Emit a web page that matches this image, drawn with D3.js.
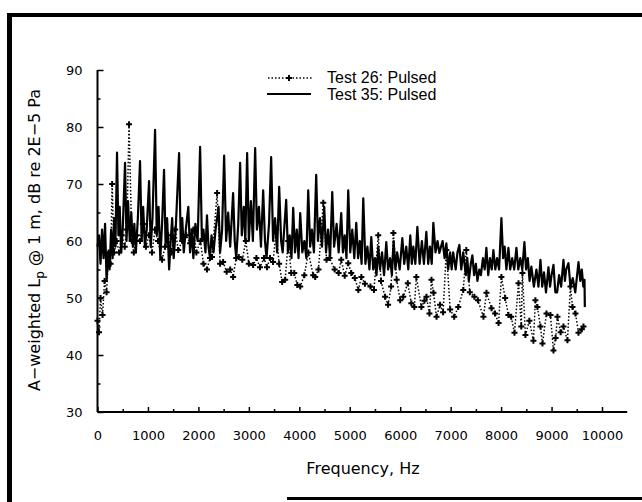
<!DOCTYPE html>
<html>
<head>
<meta charset="utf-8">
<script src="https://cdn.jsdelivr.net/npm/d3@7"></script>
<style>
  html, body { margin: 0; padding: 0; background: #fff; }
  svg { display: block; }
</style>
</head>
<body>
<script>
// ---- data ----
const seriesNames = ["Test 26: Pulsed", "Test 35: Pulsed"];
const xTicks = [0,1000,2000,3000,4000,5000,6000,7000,8000,9000,10000];
const yTicks = [30,40,50,60,70,80,90];

const freq35 = [0,30,60,90,120,150,180,210,240,270,
300,330,355,387,415,440,470,500,546,575,
605,640,670,700,730,760,800,843,875,905,
940,975,1022,1055,1090,1141,1175,1210,1245,1280,
1319,1350,1380,1420,1450,1480,1510,1550,1617,1650,
1680,1710,1750,1800,1835,1870,1900,1940,1985,2034,
2070,2100,2140,2170,2200,2230,2260,2300,2340,2400,
2430,2470,2510,2550,2590,2630,2688,2720,2750,2790,
2827,2860,2900,2930,2966,3000,3040,3080,3125,3160,
3200,3240,3284,3320,3350,3400,3442,3480,3520,3560,
3601,3640,3670,3700,3740,3775,3810,3845,3879,3915,
3950,3985,4018,4060,4100,4140,4177,4215,4250,4290,
4335,4370,4410,4450,4494,4530,4570,4610,4653,4690,
4740,4780,4831,4865,4900,4935,4970,5010,5050,5090,
5129,5165,5200,5235,5268,5310,5350,5390,5427,5465,
5500,5530,5565,5600,5640,5680,5724,5760,5800,5835,
5870,5905,5940,5990,6042,6080,6120,6160,6200,6230,
6260,6300,6340,6385,6430,6470,6518,6555,6590,6625,
6657,6700,6740,6776,6840,6880,6915,6950,6990,7020,
7050,7100,7135,7173,7210,7250,7300,7330,7360,7400,
7431,7465,7500,7530,7569,7600,7640,7675,7708,7745,
7780,7815,7847,7885,7920,7960,8006,8040,8070,8105,
8145,8180,8220,8260,8304,8340,8380,8420,8462,8495,
8530,8565,8600,8650,8700,8740,8780,8815,8850,8890,
8939,8970,9000,9038,9075,9110,9150,9190,9236,9265,
9290,9335,9375,9420,9470,9534,9570,9600,9630,9653,
9660];
const lp35 = [59,61,56,62,57,63,53,58,55,62,
57,64,59,75.5,61,66,58,62,73.7,60,
67,60,65,59,63,58,64,74,60,66,
59,62,70.5,59,64,79.5,61,66,57,63,
72.5,59,64,55,60,64,57,62,75.4,60,
64,58,62,66,58,62,57,63,60,76.5,
60,62,58,64.5,59,57,61,58,62,66,
58,62,75,60,65,59,68.4,60,57,63,
73.7,61,66,60,75.4,60,67,60,76.3,62,
66,59,68.9,60,57,63,74.7,60,64,58,
69.5,60,58,62,67.2,58,61,57,65.8,58,
62,57,64.9,58,60,57,68.9,59,62,58,
71.6,60,64,59,66,58,62,57,68.6,59,
63,58,64.9,58,61,57,68.9,58,62,57,
63.2,57,60,56,67.5,56,59,55,60.7,55,
57,54,59,55,58,54,59.8,55,57,54,
60,55,58,55,60.5,56,59,55,61,56,
59,56,62.5,56,60,56,61.6,56,59,56,
63.2,58,60,57.9,60,57,59.6,55,58,55,
58,55,58,59.3,55,58,54,57,53,56,
57.5,54,56,53,55,54,57,55,58.8,54,
57,55,58.4,55,57,55,64,57,59,55,
58.8,55,57,55,58.8,55,57,55,59.8,55,
57,53,55.5,52,55,52,56.7,52,54.5,51,
55.4,52,54,55.8,51,51,54,52,56.7,53,
55,56.1,52,53.5,51,56.3,53,55,52,53.2,
48.4];

const freq26 = [0,30,60,100,140,180,220,260,290,330,
380,430,480,540,580,625,680,720,780,843,
900,960,1020,1080,1140,1200,1280,1340,1400,1470,
1540,1600,1680,1760,1835,1900,1960,2040,2100,2170,
2230,2270,2371,2430,2490,2560,2630,2688,2750,2800,
2870,2940,3000,3085,3150,3220,3300,3360,3420,3480,
3540,3600,3660,3720,3780,3840,3900,3960,4018,4100,
4180,4275,4315,4380,4475,4540,4600,4700,4780,4831,
4900,4970,5030,5100,5170,5230,5300,5410,5480,5565,
5620,5700,5760,5820,5865,5930,6000,6060,6150,6220,
6280,6320,6420,6480,6520,6580,6620,6660,6720,6790,
6850,6915,6990,7070,7150,7250,7310,7380,7470,7540,
7650,7710,7810,7880,7950,8006,8080,8145,8200,8265,
8345,8400,8423,8482,8560,8641,8680,8720,8780,8820,
8900,8978,9038,9080,9117,9180,9236,9315,9375,9415,
9474,9534,9600,9633];
const lp26 = [46,44,50,47,53,51,58,56,70,58,
60,58,61,59,62,80.5,60,58,61,60,
63,59,61,58,62,60,56.7,59,61,58,
62,58.4,60,61,59.6,62,58,60,56,55,
57,57.2,68.4,56,56.3,54.6,55,53.7,57,57.2,
56.7,60,56,55.8,57,55.4,57,55.4,57,56.3,
62,56,52.8,53.2,60,54.4,54.4,52.3,52,54,
58,54,53.7,55,66.7,56.7,57,55,54.4,56.7,
53.9,56.1,54.4,53.5,51.4,53.7,52.5,52,51.4,61,
53,50.2,48.8,52,61.4,53.2,49.6,50.2,52.6,49.1,
48.4,53.7,48.4,49.5,50.2,47.3,53.2,50.9,46.7,48.8,
47.5,58.4,48,46.7,48.4,51.4,58.4,51,50.2,49.6,
46.7,50.9,48.2,47.3,45.6,53.7,50,47,46.7,43.9,
52.6,45,54.4,43.5,46,42.5,49.6,48.4,45,42,
47.3,47,40.8,43,46.7,44,45,42.6,52,48.4,
47.3,43.9,44.5,45];

// ---- layout ----
const W = 642, H = 502;
const svg = d3.select("body").append("svg").attr("width", W).attr("height", H);
svg.append("rect").attr("width", W).attr("height", H).attr("fill", "#fff");

// frame (scanned page border)
svg.append("rect").attr("x", 7).attr("y", 13).attr("width", 5).attr("height", H - 13).attr("fill", "#000");
svg.append("rect").attr("x", 7).attr("y", 13).attr("width", W - 7).attr("height", 4).attr("fill", "#000");
svg.append("rect").attr("x", 287).attr("y", 497).attr("width", W - 287).attr("height", 3).attr("fill", "#000");

const x = d3.scaleLinear().domain([0, 10000]).range([97.5, 602]);
const y = d3.scaleLinear().domain([30, 90]).range([412, 70]);

const tickFont = "'DejaVu Sans', sans-serif";

// x axis
const gx = svg.append("g").attr("transform", `translate(0,${y(30)})`);
gx.call(d3.axisBottom(x).tickValues(xTicks).tickFormat(d3.format("d"))
  .tickSizeInner(-5).tickSizeOuter(0).tickPadding(19));
gx.select(".domain").remove();
gx.selectAll(".tick line").attr("stroke", "#000").attr("stroke-width", 1.5);
gx.selectAll("text").attr("font-family", tickFont).attr("font-size", 13).attr("fill", "#000");
const gxm = svg.append("g").attr("transform", `translate(0,${y(30)})`);
gxm.call(d3.axisBottom(x).tickValues(d3.range(500, 10500, 1000)).tickFormat("")
  .tickSizeInner(-3).tickSizeOuter(0));
gxm.select(".domain").remove();
gxm.selectAll(".tick line").attr("stroke", "#000").attr("stroke-width", 1.5);
svg.append("line").attr("x1", x(0)).attr("x2", x(10500)).attr("y1", y(30)).attr("y2", y(30))
  .attr("stroke", "#000").attr("stroke-width", 2);

// y axis
const gy = svg.append("g").attr("transform", `translate(${x(0)},0)`);
gy.call(d3.axisLeft(y).tickValues(yTicks).tickFormat(d3.format("d"))
  .tickSizeInner(-6).tickSizeOuter(0).tickPadding(15));
gy.select(".domain").remove();
gy.selectAll(".tick line").attr("stroke", "#000").attr("stroke-width", 1.5);
gy.selectAll("text").attr("font-family", tickFont).attr("font-size", 13).attr("fill", "#000");
const gym = svg.append("g").attr("transform", `translate(${x(0)},0)`);
gym.call(d3.axisLeft(y).tickValues(d3.range(35, 90, 10)).tickFormat("")
  .tickSizeInner(-3).tickSizeOuter(0));
gym.select(".domain").remove();
gym.selectAll(".tick line").attr("stroke", "#000").attr("stroke-width", 1.5);
svg.append("line").attr("x1", x(0)).attr("x2", x(0)).attr("y1", y(90)).attr("y2", y(30))
  .attr("stroke", "#000").attr("stroke-width", 2);

// axis titles
svg.append("text").attr("x", 363).attr("y", 474).attr("text-anchor", "middle")
  .attr("font-family", tickFont).attr("font-size", 16).attr("fill", "#000")
  .text("Frequency, Hz");
const yt = svg.append("text").attr("transform", "translate(40,240) rotate(-90)")
  .attr("text-anchor", "middle").attr("font-family", tickFont).attr("font-size", 16).attr("fill", "#000");
yt.append("tspan").text("A\u2212weighted L");
yt.append("tspan").attr("font-size", 12).attr("dy", 4).text("p");
yt.append("tspan").attr("dy", -4).text(" @ 1 m, dB re 2E\u22125 Pa");

// series
const d35 = freq35.map((f, i) => [f, lp35[i]]);
const d26 = freq26.map((f, i) => [f, lp26[i]]);
const line = d3.line().x(d => x(d[0])).y(d => y(d[1]));

svg.append("path").datum(d26).attr("d", line).attr("fill", "none")
  .attr("stroke", "#000").attr("stroke-width", 1.5).attr("stroke-dasharray", "1.5,2");
const plus = d3.symbol().type(d3.symbolCross).size(20);
svg.append("g").selectAll("path").data(d26).join("path")
  .attr("d", plus).attr("transform", d => `translate(${x(d[0])},${y(d[1])})`)
  .attr("fill", "#000");

svg.append("path").datum(d35).attr("d", line).attr("fill", "none")
  .attr("stroke", "#000").attr("stroke-width", 2.2).attr("stroke-linejoin", "round");

// legend
const lg = svg.append("g");
lg.append("line").attr("x1", 268).attr("x2", 312).attr("y1", 78).attr("y2", 78)
  .attr("stroke", "#000").attr("stroke-width", 1.5).attr("stroke-dasharray", "1.5,2");
lg.append("path").attr("d", plus).attr("transform", "translate(289,78)").attr("fill", "#000");
lg.append("line").attr("x1", 267).attr("x2", 311).attr("y1", 94).attr("y2", 94)
  .attr("stroke", "#000").attr("stroke-width", 2.2);
lg.selectAll("text.lab").data(seriesNames).join("text").attr("class", "lab")
  .attr("x", 327).attr("y", (d, i) => 83 + i * 17)
  .attr("font-family", "'Liberation Sans', Arial, sans-serif").attr("font-size", 16)
  .attr("fill", "#000").text(d => d);
</script>
</body>
</html>
